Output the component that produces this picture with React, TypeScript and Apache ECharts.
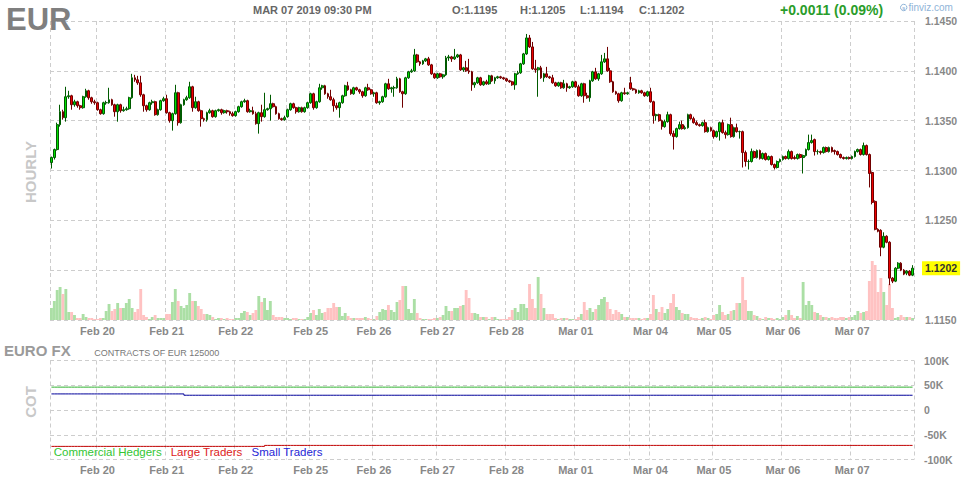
import React, { useEffect, useRef } from "react";
import * as echarts from "echarts";

const FONT = "'Liberation Sans', Arial, Helvetica, sans-serif";

// Hourly candles, [open, close, high, low] in pips above 1.1000
const feb19 = [
  [308, 313, 314, 302], [313, 321, 322, 311], [321, 346, 348, 320], [346, 359, 366, 344],
  [359, 353, 361, 351], [353, 374, 384, 349], [374, 375, 380, 372], [375, 366, 376, 361],
  [366, 369, 371, 364], [369, 365, 370, 363], [365, 363, 366, 361], [363, 374, 375, 362],
  [374, 380, 382, 373], [380, 373, 381, 371], [373, 369, 374, 367], [369, 368, 371, 366],
];
const feb20 = [
  [368, 361, 369, 360], [361, 357, 362, 356], [357, 368, 369, 356], [368, 368, 370, 366],
  [368, 371, 383, 367], [371, 366, 372, 365], [366, 359, 367, 354], [359, 366, 367, 349],
  [366, 360, 367, 358], [360, 361, 364, 359], [361, 362, 364, 360], [362, 373, 374, 361],
  [373, 393, 397, 372], [393, 391, 396, 389], [391, 388, 395, 386], [388, 376, 395, 374],
  [376, 365, 377, 359], [365, 361, 366, 359], [361, 368, 369, 360], [368, 369, 371, 366],
  [369, 356, 370, 355], [356, 361, 362, 355], [361, 370, 371, 360], [370, 372, 374, 369],
];
const feb21 = [
  [372, 358, 376, 357], [358, 350, 359, 348], [350, 357, 358, 340], [357, 378, 386, 356],
  [378, 348, 379, 345], [348, 366, 367, 347], [366, 371, 372, 365], [371, 373, 375, 370],
  [373, 384, 389, 372], [384, 363, 385, 359], [363, 369, 374, 362], [369, 360, 370, 359],
  [360, 352, 361, 344], [352, 351, 353, 349], [351, 358, 359, 349], [358, 360, 362, 357],
  [360, 354, 361, 353], [354, 360, 361, 353], [360, 361, 362, 359], [361, 358, 362, 356],
  [358, 360, 361, 357], [360, 359, 361, 357], [359, 357, 360, 355], [357, 355, 359, 354],
];
const feb22 = [
  [355, 359, 360, 354], [359, 364, 365, 358], [364, 369, 370, 363], [369, 370, 372, 368],
  [370, 359, 371, 358], [359, 360, 362, 358], [360, 357, 364, 356], [357, 347, 359, 346],
  [347, 358, 359, 337], [358, 354, 366, 349], [354, 361, 378, 353], [361, 362, 363, 360],
  [362, 367, 376, 350], [367, 364, 368, 363], [364, 357, 365, 356], [357, 352, 358, 351],
  [352, 351, 353, 350], [351, 353, 355, 350],
];
const feb24 = [
  [354, 361, 362, 353], [361, 367, 368, 360], [367, 363, 368, 362], [363, 359, 364, 357],
  [359, 363, 364, 358], [363, 359, 364, 358], [359, 363, 364, 358], [363, 368, 369, 362],
];
const feb25 = [
  [368, 377, 378, 367], [377, 363, 378, 361], [363, 369, 370, 362], [369, 383, 387, 368],
  [383, 385, 386, 381], [385, 377, 386, 376], [377, 374, 378, 372], [374, 371, 381, 370],
  [371, 365, 373, 359], [365, 363, 368, 361], [363, 368, 369, 353], [368, 375, 376, 367],
  [375, 385, 386, 374], [385, 381, 389, 380], [381, 377, 382, 376], [377, 383, 384, 376],
  [383, 381, 384, 380], [381, 379, 382, 377], [379, 375, 380, 373], [375, 383, 384, 374],
  [383, 381, 387, 380], [381, 377, 382, 376],
];
const feb26 = [
  [377, 378, 379, 374], [378, 368, 379, 367], [368, 369, 370, 366], [369, 374, 375, 368],
  [374, 387, 388, 373], [387, 382, 392, 381], [382, 383, 384, 378], [383, 383, 385, 374],
  [383, 392, 394, 382], [392, 379, 393, 378], [379, 377, 380, 363], [377, 393, 394, 376],
  [393, 399, 400, 392], [399, 400, 402, 398], [400, 416, 422, 399], [416, 409, 417, 408],
  [409, 407, 410, 405], [407, 410, 411, 406], [410, 412, 413, 409], [412, 406, 414, 405],
  [406, 397, 407, 396], [397, 393, 398, 392],
];
const feb27 = [
  [393, 397, 398, 392], [397, 394, 398, 393], [394, 396, 397, 392], [396, 413, 415, 395],
  [413, 414, 416, 410], [414, 412, 415, 409], [412, 414, 422, 411], [414, 416, 417, 413],
  [416, 401, 417, 400], [401, 403, 404, 399], [403, 400, 410, 399], [400, 399, 412, 397],
  [399, 386, 400, 380], [386, 388, 389, 383], [388, 393, 394, 387], [393, 386, 394, 385],
  [386, 389, 390, 385], [389, 387, 391, 386], [387, 395, 396, 386], [395, 390, 396, 389],
  [390, 393, 394, 387], [393, 394, 395, 392], [394, 393, 395, 392], [393, 392, 394, 391],
];
const feb28 = [
  [392, 390, 393, 389], [390, 389, 391, 388], [389, 386, 390, 385], [386, 397, 398, 381],
  [397, 398, 400, 396], [398, 407, 408, 397], [407, 417, 418, 406], [417, 433, 437, 416],
  [433, 424, 436, 423], [424, 402, 429, 401], [402, 401, 411, 398], [401, 403, 404, 374],
  [403, 393, 405, 392], [393, 397, 398, 389], [397, 394, 404, 393], [394, 393, 395, 392],
  [393, 388, 396, 387], [388, 385, 389, 384], [385, 388, 389, 384], [388, 383, 389, 382],
  [383, 387, 391, 382], [387, 383, 388, 379], [383, 384, 385, 382], [384, 389, 390, 383],
];
const mar01 = [
  [389, 384, 390, 383], [384, 375, 386, 374], [375, 387, 388, 374], [387, 375, 388, 368],
  [375, 373, 378, 372], [373, 390, 391, 369], [390, 399, 400, 389], [399, 392, 403, 391],
  [392, 397, 398, 390], [397, 409, 416, 396], [409, 412, 418, 408], [412, 400, 424, 399],
  [400, 389, 403, 388], [389, 379, 390, 378], [379, 377, 380, 376], [377, 370, 378, 368],
  [370, 378, 379, 369], [378, 377, 383, 376], [377, 378, 379, 376],
];
const mar03 = [
  [388, 382, 394, 381], [382, 381, 383, 380], [381, 378, 382, 377], [378, 380, 381, 377],
  [380, 378, 381, 377], [378, 375, 379, 374], [375, 379, 380, 374],
];
const mar04 = [
  [379, 369, 383, 368], [369, 355, 370, 347], [355, 356, 357, 350], [356, 350, 357, 349],
  [350, 344, 351, 341], [344, 349, 351, 343], [349, 356, 359, 348], [356, 337, 357, 335],
  [337, 334, 340, 321], [334, 342, 343, 333], [342, 346, 349, 341], [346, 342, 350, 341],
  [342, 343, 345, 341], [343, 356, 357, 342], [356, 352, 357, 351], [352, 348, 354, 347],
  [348, 346, 350, 345], [346, 345, 347, 344], [345, 348, 349, 344], [348, 339, 351, 338],
  [339, 343, 344, 338], [343, 340, 344, 339],
];
const mar05 = [
  [340, 334, 341, 332], [334, 339, 340, 333], [339, 348, 349, 330], [348, 338, 351, 337],
  [338, 336, 340, 332], [336, 346, 347, 335], [346, 334, 353, 333], [334, 343, 344, 333],
  [343, 339, 347, 338], [339, 339, 340, 332], [339, 318, 340, 303], [318, 309, 320, 304],
  [309, 309, 311, 301], [309, 319, 322, 308], [319, 313, 320, 312], [313, 320, 321, 312],
  [320, 312, 321, 311], [312, 317, 318, 311], [317, 311, 318, 310], [311, 314, 315, 310],
  [314, 306, 315, 305], [306, 303, 307, 301], [303, 309, 310, 302], [309, 311, 312, 308],
];
const mar06 = [
  [311, 314, 315, 310], [314, 312, 315, 311], [312, 319, 321, 311], [319, 312, 320, 311],
  [313, 312, 315, 311], [312, 316, 317, 311], [316, 313, 317, 312], [313, 315, 316, 297],
  [315, 321, 322, 314], [321, 328, 336, 320], [328, 330, 336, 327], [331, 319, 332, 315],
  [319, 319, 321, 316], [319, 318, 320, 316], [318, 323, 324, 317], [323, 319, 324, 318],
  [319, 323, 324, 318], [323, 319, 324, 318], [320, 319, 321, 316], [319, 316, 320, 315],
  [316, 313, 317, 312], [313, 312, 314, 311], [312, 313, 314, 311], [313, 312, 314, 311],
];
const mar07 = [
  [312, 314, 315, 311], [314, 319, 320, 313], [319, 321, 322, 318], [321, 316, 322, 315],
  [316, 325, 328, 315], [325, 316, 326, 315], [316, 297, 317, 283], [298, 268, 299, 266],
  [269, 241, 270, 240], [241, 239, 242, 238], [240, 223, 241, 214], [223, 234, 238, 222],
  [234, 228, 235, 227], [228, 192, 229, 185], [192, 189, 193, 187], [189, 202, 203, 188],
  [202, 207, 208, 201], [207, 200, 208, 199], [200, 196, 201, 195], [197, 199, 200, 195],
  [199, 195, 200, 194], [195, 202, 205, 194],
];

// Hourly volume (relative units)
const volFeb19 = [12, 19, 30, 33, 26, 31, 8, 8, 5, 2, 2, 6, 3, 2, 2, 1];
const volFeb20 = [1, 2, 2, 9, 16, 9, 11, 17, 12, 12, 17, 21, 12, 8, 11, 31, 5, 3, 1, 3, 5, 2, 2, 2];
const volFeb21 = [6, 6, 18, 31, 19, 14, 12, 15, 27, 19, 19, 14, 11, 6, 6, 5, 3, 1, 2, 2, 1, 2, 1, 1];
const volFeb22 = [2, 2, 7, 9, 8, 5, 7, 10, 24, 18, 22, 10, 19, 5, 3, 3, 3, 2];
const volFeb24 = [2, 1, 2, 2, 1, 1, 1, 3];
const volFeb25 = [7, 10, 5, 11, 7, 8, 12, 12, 17, 13, 13, 4, 7, 4, 2, 2, 2, 2, 2, 3, 2, 1];
const volFeb26 = [1, 4, 8, 11, 10, 15, 10, 8, 18, 20, 34, 34, 11, 7, 21, 7, 2, 1, 1, 1, 1, 2];
const volFeb27 = [2, 3, 5, 14, 9, 9, 12, 12, 14, 15, 30, 22, 7, 7, 6, 3, 3, 3, 1, 3, 3, 1, 1, 1];
const volFeb28 = [1, 3, 10, 12, 8, 16, 16, 12, 36, 21, 12, 43, 26, 12, 6, 6, 6, 2, 1, 2, 2, 2, 1, 1];
const volMar01 = [1, 3, 6, 18, 10, 12, 8, 11, 15, 21, 23, 18, 11, 6, 10, 8, 6, 3, 3];
const volMar03 = [2, 2, 2, 2, 1, 2, 2];
const volMar04 = [6, 25, 11, 8, 13, 7, 11, 17, 26, 13, 10, 7, 6, 6, 3, 2, 2, 1, 2, 3, 2, 1];
const volMar05 = [5, 6, 15, 8, 5, 6, 9, 10, 17, 17, 43, 20, 9, 9, 5, 4, 2, 1, 3, 2, 2, 1, 2, 1];
const volMar06 = [3, 5, 10, 5, 2, 4, 2, 38, 15, 19, 15, 8, 7, 5, 3, 3, 2, 3, 2, 2, 3, 3, 2, 3];
const volMar07 = [3, 5, 9, 7, 8, 9, 39, 59, 55, 28, 42, 28, 15, 36, 12, 2, 3, 5, 3, 3, 3, 2];

const sessions = [
  { day: "Feb 19", label: false, firstHour: 8, candles: feb19, volume: volFeb19 },
  { day: "Feb 20", label: true, firstHour: 0, candles: feb20, volume: volFeb20 },
  { day: "Feb 21", label: true, firstHour: 0, candles: feb21, volume: volFeb21 },
  { day: "Feb 22", label: true, firstHour: 0, candles: feb22, volume: volFeb22 },
  { day: "Feb 24", label: false, firstHour: 16, candles: feb24, volume: volFeb24 },
  { day: "Feb 25", label: true, firstHour: 0, candles: feb25, volume: volFeb25 },
  { day: "Feb 26", label: true, firstHour: 0, candles: feb26, volume: volFeb26 },
  { day: "Feb 27", label: true, firstHour: 0, candles: feb27, volume: volFeb27 },
  { day: "Feb 28", label: true, firstHour: 0, candles: feb28, volume: volFeb28 },
  { day: "Mar 01", label: true, firstHour: 0, candles: mar01, volume: volMar01 },
  { day: "Mar 03", label: false, firstHour: 17, candles: mar03, volume: volMar03 },
  { day: "Mar 04", label: true, firstHour: 0, candles: mar04, volume: volMar04 },
  { day: "Mar 05", label: true, firstHour: 0, candles: mar05, volume: volMar05 },
  { day: "Mar 06", label: true, firstHour: 0, candles: mar06, volume: volMar06 },
  { day: "Mar 07", label: true, firstHour: 0, candles: mar07, volume: volMar07 },
];

// COT net positions (contracts), effective from the given hour
const cotCommercial: [string, number][] = [["Feb 19 08:00", 46200]];
const cotLarge: [string, number][] = [["Feb 19 08:00", -73500], ["Feb 22 10:00", -71500]];
const cotSmall: [string, number][] = [["Feb 19 08:00", 32500], ["Feb 21 06:00", 29800]];

const priceTicks = { min: 150, max: 450, interval: 50 }; // pips above 1.1000
const cotTicks = { min: -100000, max: 100000, interval: 50000 };

const headerSymbol = "EUR";
const headerTime = "MAR 07 2019 09:30 PM";
const headerChange = "+0.0011 (0.09%)";
const cotTitle = "EURO FX";
const cotSubtitle = "CONTRACTS OF EUR 125000";

const fmt = (p: number) => (1.1 + p / 10000).toFixed(4);

const categories: string[] = [];
const splitIdx = new Set<number>();
const labelIdx = new Set<number>();
const candleData: number[][] = [];
const volumeData: any[] = [];
sessions.forEach((s) => {
  splitIdx.add(categories.length);
  if (s.label) labelIdx.add(categories.length);
  s.candles.forEach((c, k) => {
    categories.push(`${s.day} ${String(s.firstHour + k).padStart(2, "0")}:00`);
    const [o, cl, h, l] = c;
    candleData.push([o, cl, l, h]);
    volumeData.push({ value: s.volume[k], itemStyle: { color: cl >= o ? "#abdfa5" : "#ffc2c2" } });
  });
});

function stepSeries(steps: [string, number][]) {
  const idx = steps.map(([c, v]) => [categories.indexOf(c), v]);
  return categories.map((_, i) => {
    let v = idx[0][1];
    for (const [j, val] of idx) if (i >= j) v = val;
    return v;
  });
}

const lastSession = sessions[sessions.length - 1];
const last = lastSession.candles[lastSession.candles.length - 1];
const [lastO, lastC, lastH, lastL] = last;

const GRID_LINE = { color: "#cdcdcd", width: 1, type: [4, 3] as any };
const AXIS_LABEL = { color: "#888", fontWeight: "bold" as const, fontSize: 11, fontFamily: FONT };

function xAxisFor(gridIndex: number) {
  return {
    type: "category",
    gridIndex,
    data: categories,
    boundaryGap: true,
    axisLine: { show: false },
    axisTick: { show: false },
    axisLabel: {
      ...AXIS_LABEL,
      margin: 5,
      interval: (i: number) => labelIdx.has(i),
      formatter: (v: string) => v.slice(0, 6),
    },
    splitLine: { show: true, interval: (i: number) => splitIdx.has(i), lineStyle: GRID_LINE },
  };
}

const legendItems = [
  { name: "Commercial Hedgers", text: "#33c633", line: "#2fb12f", data: cotCommercial },
  { name: "Large Traders", text: "#dd2222", line: "#c00000", data: cotLarge },
  { name: "Small Traders", text: "#2626d6", line: "#00009a", data: cotSmall },
];

const text = (x: number, y: number, t: string, font: string, fill: string, extra: any = {}) => ({
  type: "text",
  x,
  y,
  silent: true,
  z: 100,
  ...extra,
  style: { text: t, font, fill, align: "left", verticalAlign: "middle", ...(extra.style || {}) },
});

const option: any = {
  animation: false,
  backgroundColor: "#ffffff",
  textStyle: { fontFamily: FONT },
  grid: [
    { left: 50, width: 864, top: 21, height: 299 },
    { left: 50, width: 864, top: 360.5, height: 99 },
  ],
  xAxis: [xAxisFor(0), xAxisFor(1)],
  yAxis: [
    {
      type: "value",
      gridIndex: 0,
      position: "right",
      min: priceTicks.min,
      max: priceTicks.max,
      interval: priceTicks.interval,
      axisLine: { show: false },
      axisTick: { show: false },
      axisLabel: {
        ...AXIS_LABEL,
        fontSize: 10.5,
        margin: 11,
        // the tick hidden behind the current-price tag is left blank
        formatter: (v: number) => (Math.abs(v - lastC) < 8 ? "" : fmt(v)),
      },
      splitLine: { show: true, lineStyle: GRID_LINE },
    },
    { type: "value", gridIndex: 0, min: 0, max: 299, show: false },
    {
      type: "value",
      gridIndex: 1,
      position: "right",
      min: cotTicks.min,
      max: cotTicks.max,
      interval: cotTicks.interval,
      axisLine: { show: false },
      axisTick: { show: false },
      axisLabel: {
        ...AXIS_LABEL,
        fontSize: 10.5,
        margin: 10,
        formatter: (v: number) => (v === 0 ? "0" : `${v / 1000}K`),
      },
      splitLine: { show: true, lineStyle: GRID_LINE },
    },
  ],
  legend: {
    left: 47.7,
    top: 446,
    padding: 0,
    itemWidth: 0,
    itemHeight: 0,
    itemGap: 3,
    selectedMode: false,
    data: legendItems.map((l) => ({ name: l.name, textStyle: { color: l.text, fontSize: 11.5, fontFamily: FONT } })),
  },
  series: [
    {
      type: "bar",
      name: "Volume",
      xAxisIndex: 0,
      yAxisIndex: 1,
      data: volumeData,
      barCategoryGap: "0%",
      silent: true,
    },
    {
      type: "candlestick",
      name: "EUR",
      xAxisIndex: 0,
      yAxisIndex: 0,
      data: candleData,
      barWidth: 2.3,
      silent: true,
      itemStyle: {
        color: "#00e000",
        color0: "#ee0000",
        borderColor: "#005a00",
        borderColor0: "#700000",
        borderWidth: 1,
      },
      markLine: {
        symbol: "none",
        silent: true,
        animation: false,
        lineStyle: { width: 1, color: "rgba(255,255,255,0)", type: "solid" },
        emphasis: { disabled: true },
        data: [{ yAxis: lastC }],
        label: {
          show: true,
          position: "end",
          distance: 8,
          formatter: fmt(lastC),
          backgroundColor: "#ffff00",
          color: "#333333",
          fontWeight: "bold",
          fontSize: 10.5,
          fontFamily: FONT,
          padding: [2, 3, 1, 3],
        },
      },
    },
    ...legendItems.map((l) => ({
      type: "line",
      name: l.name,
      xAxisIndex: 1,
      yAxisIndex: 2,
      data: stepSeries(l.data),
      step: "end",
      showSymbol: false,
      silent: true,
      color: l.line,
      lineStyle: { color: l.line, width: 1 },
    })),
  ],
  graphic: [
    text(6, 19, headerSymbol, `bold 31px ${FONT}`, "#7f7f7f"),
    text(253, 10, headerTime, `bold 11px ${FONT}`, "#666"),
    text(452, 10, `O:${fmt(lastO)}`, `bold 11px ${FONT}`, "#666"),
    text(520, 10, `H:${fmt(lastH)}`, `bold 11px ${FONT}`, "#666"),
    text(580, 10, `L:${fmt(lastL)}`, `bold 11px ${FONT}`, "#666"),
    text(639, 10, `C:${fmt(lastC)}`, `bold 11px ${FONT}`, "#666"),
    text(780, 10, headerChange, `bold 14px ${FONT}`, "#2a9d2a"),
    {
      type: "circle",
      silent: true,
      z: 100,
      shape: { cx: 903.7, cy: 7.5, r: 3.2 },
      style: { fill: "none", stroke: "#8fb4d8", lineWidth: 1 },
    },
    text(903.7, 7.8, "s", `bold 6px ${FONT}`, "#8fb4d8", { style: { align: "center" } }),
    text(908.5, 7.8, "finviz.com", `10px ${FONT}`, "#8fb4d8"),
    text(30, 172, "HOURLY", `bold 15px ${FONT}`, "#c8c8c8", { rotation: Math.PI / 2, style: { align: "center" } }),
    text(30, 402, "COT", `bold 15px ${FONT}`, "#c8c8c8", { rotation: Math.PI / 2, style: { align: "center" } }),
    text(4, 350.5, cotTitle, `bold 15px ${FONT}`, "#9a9a9a"),
    text(94.3, 353, cotSubtitle, `9px ${FONT}`, "#777"),
  ],
};

export default function App() {
  const ref = useRef<HTMLDivElement>(null);
  useEffect(() => {
    const chart = echarts.init(ref.current!, undefined, { renderer: "svg" });
    chart.setOption(option);
    return () => chart.dispose();
  }, []);
  return (
    <div
      ref={ref}
      style={{ position: "fixed", left: 0, top: 0, width: 964, height: 480, background: "#fff" }}
    />
  );
}
